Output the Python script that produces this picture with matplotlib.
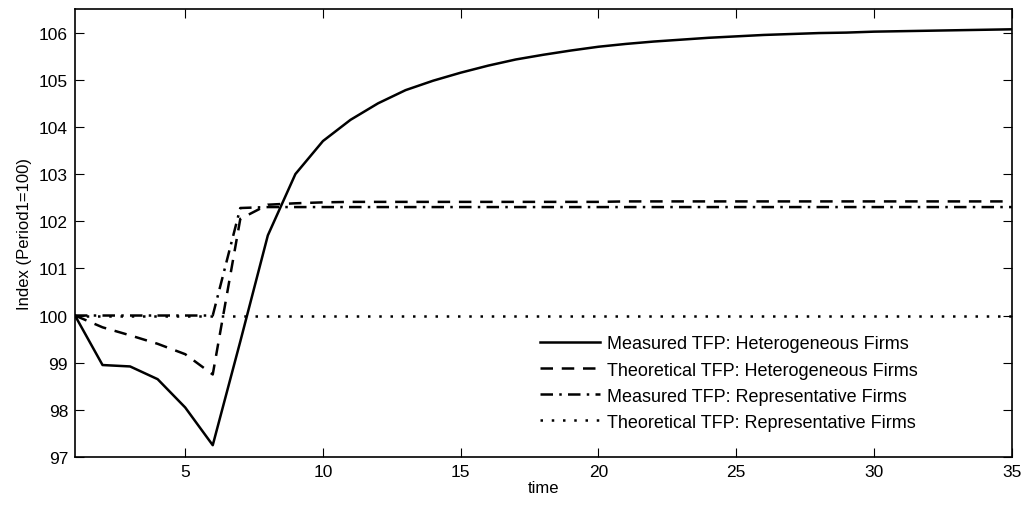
import numpy as np
import matplotlib
matplotlib.use("Agg")
import matplotlib.pyplot as plt

plt.rcParams["font.family"] = ["Liberation Sans", "DejaVu Sans"]
plt.rcParams["font.size"] = 12

# Donnees
time = np.arange(1, 36)
measured_het = [100.0, 98.95, 98.92, 98.65, 98.05, 97.25, 99.45, 101.7, 103.0, 103.7,
                104.15, 104.5, 104.78, 104.98, 105.15, 105.3, 105.43, 105.53, 105.62, 105.7,
                105.76, 105.81, 105.85, 105.89, 105.92, 105.95, 105.97, 105.99, 106.0, 106.02,
                106.03, 106.04, 106.05, 106.06, 106.07]
theoretical_het = [100.0, 99.75, 99.58, 99.4, 99.18, 98.75, 102.05, 102.35, 102.38, 102.4] + [102.41] * 10 + [102.42] * 15
measured_rep = [100.0] * 6 + [102.28] + [102.3] * 28
theoretical_rep = [100.0] * 35

labels = ["Measured TFP: Heterogeneous Firms",
          "Theoretical TFP: Heterogeneous Firms",
          "Measured TFP: Representative Firms",
          "Theoretical TFP: Representative Firms"]

fig = plt.figure(figsize=(10.23, 5.06), dpi=100)
ax = fig.add_axes([0.0733, 0.0949, 0.9157, 0.8853])

ax.plot(time, measured_het, c="black", lw=1.8, ls="-", label=labels[0])
ax.plot(time, theoretical_het, c="black", lw=1.8, ls=(0, (5, 3.5)), label=labels[1])
ax.plot(time, measured_rep, c="black", lw=1.8, ls=(0, (5, 2.5, 1, 2.5)), label=labels[2])
ax.plot(time, theoretical_rep, c="black", lw=1.8, ls=(0, (1, 3.5)), label=labels[3])

ax.set_xlim(1, 35)
ax.set_ylim(97, 106.5)
ax.set_xticks([5, 10, 15, 20, 25, 30, 35])
ax.set_yticks(np.arange(97, 107))
ax.tick_params(direction="in", top=True, right=True, length=6.5, width=0.8,
               labelsize=12.5, pad=5)
for s in ax.spines.values():
    s.set_linewidth(1.2)

ax.set_xlabel("time", fontsize=12, labelpad=1)
ax.set_ylabel("Index (Period1=100)", fontsize=12, labelpad=5)

# Legende sans cadre, en bas a droite
ax.legend(loc="upper left", bbox_to_anchor=(0.528, 0.335), bbox_transform=fig.transFigure,
          frameon=False, borderpad=0, borderaxespad=0,
          fontsize=13, handlelength=3.3, handletextpad=0.38, labelspacing=0.5)

fig.savefig("out.png", dpi=100)
